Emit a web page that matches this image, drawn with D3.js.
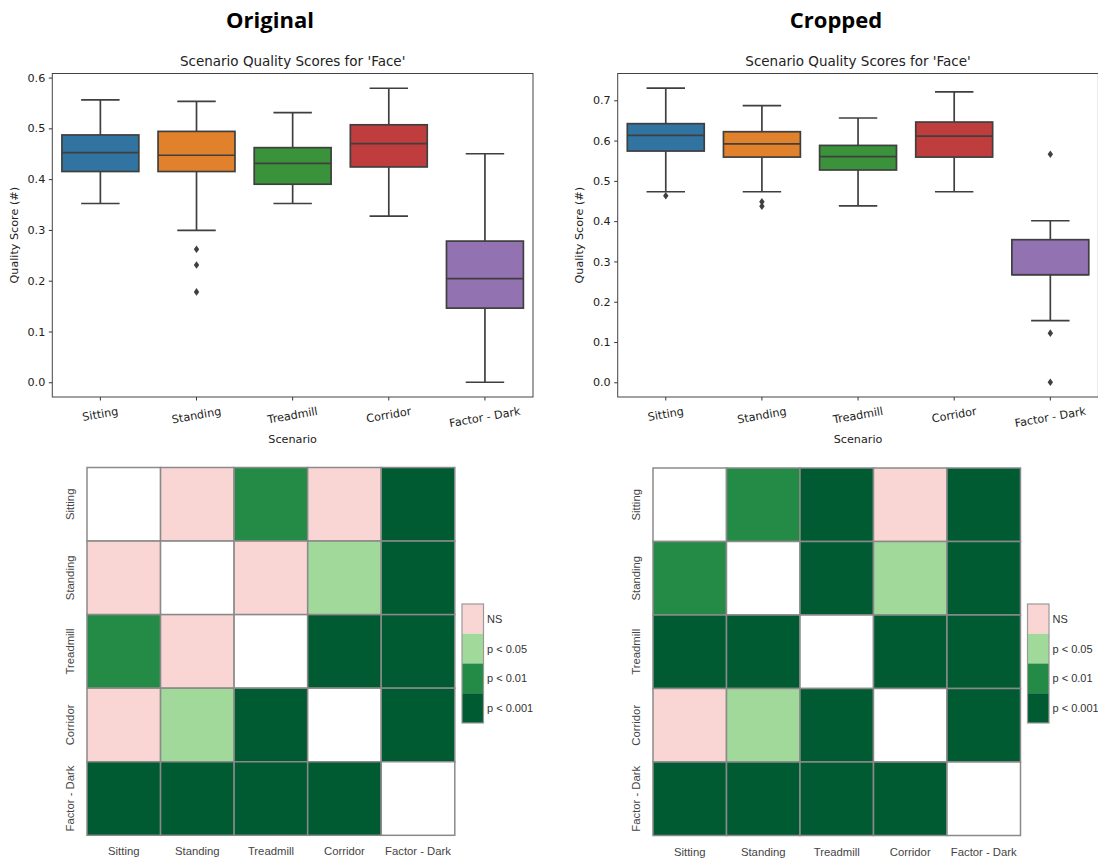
<!DOCTYPE html>
<html>
<head>
<meta charset="utf-8">
<script src="https://cdn.jsdelivr.net/npm/d3@7"></script>
<style>
  html, body { margin: 0; padding: 0; background: #fff; }
  svg { display: block; }
</style>
</head>
<body>
<svg id="fig" width="1098" height="865"></svg>
<script>
// ---- data -------------------------------------------------------------
const scenarios = ["Sitting", "Standing", "Treadmill", "Corridor", "Factor - Dark"];
const boxColors = ["#3274a1", "#e1812c", "#3a923a", "#c03d3e", "#9372b2"];
const panelTitles = ["Original", "Cropped"];
const plotTitle = "Scenario Quality Scores for 'Face'";

// box statistics, Original images
const origLow  = [0.352, 0.299, 0.352, 0.327, 0.000];
const origQ1   = [0.415, 0.415, 0.390, 0.424, 0.146];
const origMed  = [0.452, 0.447, 0.431, 0.470, 0.204];
const origQ3   = [0.487, 0.494, 0.462, 0.507, 0.278];
const origHigh = [0.556, 0.553, 0.531, 0.579, 0.450];
const origOut  = [[], [0.262, 0.231, 0.178], [], [], []];
const origTicks = [0.0, 0.1, 0.2, 0.3, 0.4, 0.5, 0.6];

// box statistics, Cropped images
const cropLow  = [0.473, 0.473, 0.438, 0.473, 0.153];
const cropQ1   = [0.574, 0.559, 0.527, 0.559, 0.267];
const cropMed  = [0.613, 0.592, 0.560, 0.611, 0.267];
const cropQ3   = [0.642, 0.622, 0.588, 0.646, 0.354];
const cropHigh = [0.730, 0.687, 0.656, 0.721, 0.401];
const cropOut  = [[0.463], [0.448, 0.437], [], [], [0.566, 0.122, 0.0]];
const cropTicks = [0.0, 0.1, 0.2, 0.3, 0.4, 0.5, 0.6, 0.7];

// pairwise significance: -1 = same scenario, 0 = NS, 1 = p<0.05, 2 = p<0.01, 3 = p<0.001
const origSig = [
  [-1, 0, 2, 0, 3],
  [0, -1, 0, 1, 3],
  [2, 0, -1, 3, 3],
  [0, 1, 3, -1, 3],
  [3, 3, 3, 3, -1]
];
const cropSig = [
  [-1, 2, 3, 0, 3],
  [2, -1, 3, 1, 3],
  [3, 3, -1, 3, 3],
  [0, 1, 3, -1, 3],
  [3, 3, 3, 3, -1]
];
const sigLabels = ["NS", "p < 0.05", "p < 0.01", "p < 0.001"];
const sigColors = ["#f9d6d3", "#a1d99b", "#238b45", "#005a32"];

// ---- drawing ----------------------------------------------------------
const svg = d3.select("#fig");
svg.append("rect").attr("width", 1098).attr("height", 865).attr("fill", "#fff");

const MPL_FONT = "'DejaVu Sans', sans-serif";
const R_FONT = "'Liberation Sans', Arial, sans-serif";
const EDGE = "#3f3f3f";
const TICK_FS = 11.2;
const TITLE_FS = 13.5;

// panel headings
[[270, panelTitles[0]], [836, panelTitles[1]]].forEach(([x, t]) => {
  svg.append("text")
    .attr("x", x).attr("y", 28)
    .attr("text-anchor", "middle")
    .attr("font-family", "'Open Sans', sans-serif")
    .attr("font-weight", 700)
    .attr("font-size", 22)
    .attr("fill", "#000")
    .text(t);
});

function boxPanel(opts) {
  const { left, right, top, bottom, yDomain, ticks, low, q1, med, q3, high, out, ylabelX } = opts;
  const g = svg.append("g");
  const x = d3.scaleBand().domain(scenarios).range([left, right]).paddingInner(0).paddingOuter(0);
  const y = d3.scaleLinear().domain(yDomain).range([bottom, top]);
  const bw = x.bandwidth() * 0.8;
  const capW = bw / 2;

  // y axis
  const ya = g.append("g").attr("transform", `translate(${left},0)`)
    .call(d3.axisLeft(y).tickValues(ticks).tickFormat(d3.format(".1f")).tickSize(3.5).tickPadding(3.5));
  ya.select(".domain").remove();
  ya.selectAll("line").attr("stroke", "#333");
  ya.selectAll("text").attr("font-family", MPL_FONT).attr("font-size", TICK_FS).attr("fill", "#222");

  // x axis ticks
  const xa = g.append("g").attr("transform", `translate(0,${bottom})`)
    .call(d3.axisBottom(x).tickSize(3.5).tickFormat(""));
  xa.select(".domain").remove();
  xa.selectAll("line").attr("stroke", "#333");

  // rotated category labels
  const rot = 10 * Math.PI / 180;
  scenarios.forEach(s => {
    const t = g.append("text")
      .attr("font-family", MPL_FONT).attr("font-size", TICK_FS).attr("fill", "#222")
      .attr("text-anchor", "middle").attr("dominant-baseline", "central")
      .text(s);
    const w = t.node().getComputedTextLength();
    const h = TICK_FS * 1.05;
    const cy = bottom + 8.5 + (w * Math.sin(rot) + h * Math.cos(rot)) / 2;
    t.attr("transform", `translate(${x(s) + x.bandwidth() / 2},${cy}) rotate(-10)`);
  });

  // boxes
  scenarios.forEach((s, i) => {
    const cx = x(s) + x.bandwidth() / 2;
    const bg = g.append("g");
    bg.append("line").attr("x1", cx).attr("x2", cx).attr("y1", y(q3[i])).attr("y2", y(high[i]))
      .attr("stroke", EDGE).attr("stroke-width", 1.7);
    bg.append("line").attr("x1", cx).attr("x2", cx).attr("y1", y(q1[i])).attr("y2", y(low[i]))
      .attr("stroke", EDGE).attr("stroke-width", 1.7);
    bg.append("line").attr("x1", cx - capW / 2).attr("x2", cx + capW / 2).attr("y1", y(high[i])).attr("y2", y(high[i]))
      .attr("stroke", EDGE).attr("stroke-width", 1.7);
    bg.append("line").attr("x1", cx - capW / 2).attr("x2", cx + capW / 2).attr("y1", y(low[i])).attr("y2", y(low[i]))
      .attr("stroke", EDGE).attr("stroke-width", 1.7);
    bg.append("rect").attr("x", cx - bw / 2).attr("width", bw)
      .attr("y", y(q3[i])).attr("height", y(q1[i]) - y(q3[i]))
      .attr("fill", boxColors[i]).attr("stroke", EDGE).attr("stroke-width", 1.7);
    bg.append("line").attr("x1", cx - bw / 2).attr("x2", cx + bw / 2).attr("y1", y(med[i])).attr("y2", y(med[i]))
      .attr("stroke", EDGE).attr("stroke-width", 1.7);
    out[i].forEach(v => {
      const py = y(v);
      bg.append("path")
        .attr("d", `M${cx},${py - 3.8}L${cx + 2.7},${py}L${cx},${py + 3.8}L${cx - 2.7},${py}Z`)
        .attr("fill", EDGE);
    });
  });

  // frame
  g.append("rect").attr("x", left).attr("y", top).attr("width", right - left).attr("height", bottom - top)
    .attr("fill", "none").attr("stroke", "#444").attr("stroke-width", 1);

  // titles
  g.append("text").attr("x", (left + right) / 2).attr("y", top - 7.5)
    .attr("text-anchor", "middle").attr("font-family", MPL_FONT).attr("font-size", TITLE_FS).attr("fill", "#222")
    .text(plotTitle);
  g.append("text").attr("x", (left + right) / 2).attr("y", 443)
    .attr("text-anchor", "middle").attr("font-family", MPL_FONT).attr("font-size", TICK_FS).attr("fill", "#222")
    .text("Scenario");
  g.append("text").attr("transform", `translate(${ylabelX},${(top + bottom) / 2}) rotate(-90)`)
    .attr("text-anchor", "middle").attr("dominant-baseline", "central")
    .attr("font-family", MPL_FONT).attr("font-size", TICK_FS).attr("fill", "#222")
    .text("Quality Score (#)");
}

boxPanel({ left: 52.3, right: 533, top: 73.5, bottom: 397, yDomain: [-0.029, 0.608], ticks: origTicks,
  low: origLow, q1: origQ1, med: origMed, q3: origQ3, high: origHigh, out: origOut, ylabelX: 14.5 });
boxPanel({ left: 617.7, right: 1098.4, top: 73.5, bottom: 397, yDomain: [-0.0365, 0.7665], ticks: cropTicks,
  low: cropLow, q1: cropQ1, med: cropMed, q3: cropQ3, high: cropHigh, out: cropOut, ylabelX: 579.5 });

function heatPanel(opts) {
  const { left, top, size, sig, legendX } = opts;
  const g = svg.append("g");
  const x = d3.scaleBand().domain(scenarios).range([left, left + size]);
  const y = d3.scaleBand().domain(scenarios).range([top, top + size]);

  sig.forEach((row, r) => {
    row.forEach((v, c) => {
      g.append("rect")
        .attr("x", x(scenarios[c])).attr("y", y(scenarios[r]))
        .attr("width", x.bandwidth()).attr("height", y.bandwidth())
        .attr("fill", v < 0 ? "#ffffff" : sigColors[v])
        .attr("stroke", "#8a8a8a").attr("stroke-width", 1.5);
    });
  });

  scenarios.forEach(s => {
    g.append("text")
      .attr("x", x(s) + x.bandwidth() / 2).attr("y", top + size + 20)
      .attr("text-anchor", "middle").attr("font-family", R_FONT).attr("font-size", 11.3).attr("fill", "#444")
      .text(s);
    g.append("text")
      .attr("transform", `translate(${left - 17.5},${y(s) + y.bandwidth() / 2}) rotate(-90)`)
      .attr("text-anchor", "middle").attr("dominant-baseline", "central")
      .attr("font-family", R_FONT).attr("font-size", 11.3).attr("fill", "#444")
      .text(s);
  });

  // legend
  const lTop = 604, segH = 29.75, lW = 21.5;
  const ly = d3.scaleBand().domain(sigLabels).range([lTop, lTop + segH * sigLabels.length]);
  sigLabels.forEach((lab, i) => {
    g.append("rect").attr("x", legendX).attr("y", ly(lab)).attr("width", lW).attr("height", ly.bandwidth())
      .attr("fill", sigColors[i]);
    g.append("text").attr("x", legendX + lW + 3.5).attr("y", ly(lab) + ly.bandwidth() / 2)
      .attr("dominant-baseline", "central")
      .attr("font-family", R_FONT).attr("font-size", 11).attr("fill", "#333")
      .text(lab);
  });
  g.append("rect").attr("x", legendX).attr("y", lTop).attr("width", lW).attr("height", segH * sigLabels.length)
    .attr("fill", "none").attr("stroke", "#999").attr("stroke-width", 1.2);
}

heatPanel({ left: 87, top: 467.5, size: 367.8, sig: origSig, legendX: 462 });
heatPanel({ left: 653, top: 468, size: 367.5, sig: cropSig, legendX: 1027.5 });
</script>
</body>
</html>
